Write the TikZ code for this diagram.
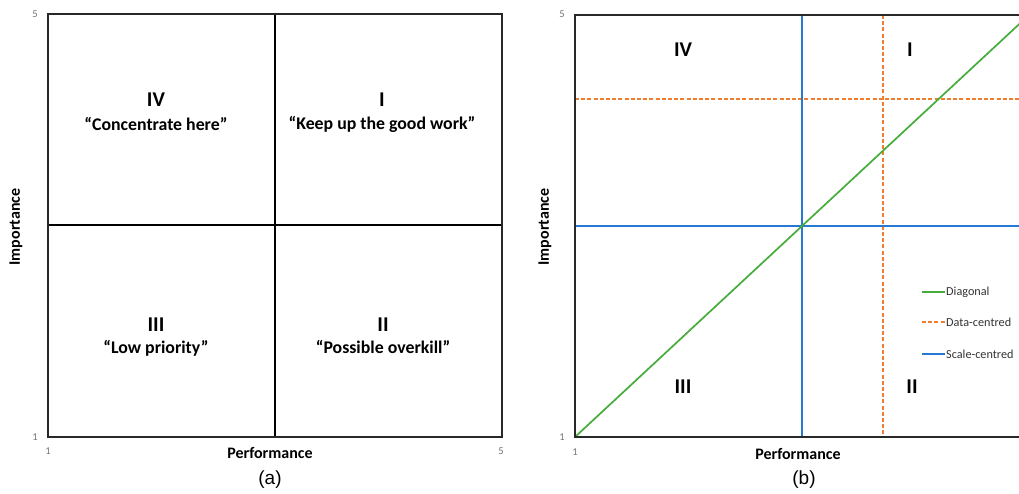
\documentclass[tikz,border=0pt]{standalone}
\usepackage{fontspec}
\setmainfont{Carlito}
\newfontfamily\capfont{Liberation Sans}
\definecolor{cblue}{RGB}{36,122,210}
\definecolor{corange}{RGB}{240,125,45}
\definecolor{cgreen}{RGB}{70,172,60}
\definecolor{ctick}{RGB}{110,118,118}
\definecolor{cframe}{RGB}{40,40,40}
\tikzset{
  frame/.style={draw=cframe,line width=2.5pt},
  divider/.style={draw=black,line width=2.3pt},
  bluel/.style={draw=cblue,line width=2.4pt},
  orangel/.style={draw=corange,line width=2.4pt,dash pattern=on 4pt off 2.2pt},
  greenl/.style={draw=cgreen,line width=1.7pt},
  quadnum/.style={inner sep=0pt,font=\fontsize{21}{23}\selectfont\bfseries},
  quadtxt/.style={inner sep=0pt,font=\fontsize{17.8}{19}\selectfont\bfseries},
  axtitle/.style={inner sep=0pt,font=\fontsize{16}{18}\selectfont\bfseries},
  ticklab/.style={inner sep=0pt,text=ctick,font=\fontsize{10.5}{12}\selectfont},
  caplab/.style={inner sep=0pt,font=\capfont\fontsize{19}{21}\selectfont},
  legtxt/.style={inner sep=0pt,anchor=west,text=black!80,font=\fontsize{12.2}{14}\selectfont}
}
\begin{document}
\begin{tikzpicture}[x=1pt,y=-1pt]
\clip (0,0) rectangle (1019,493);
\fill[white] (0,0) rectangle (1019,493);
% ---------- panel (a) ----------
\coordinate (aTL) at (48,14);
\coordinate (aBR) at (502,437);
\coordinate (aT) at (275,14);
\coordinate (aB) at (275,437);
\coordinate (aL) at (48,225);
\coordinate (aR) at (502,225);
\draw[divider] (aT) -- (aB);
\draw[divider] (aL) -- (aR);
\draw[frame] (aTL) rectangle (aBR);
\node[quadnum] (aIV) at (156,100) {IV};
\node[quadtxt] (aIVt) at (156,124) {“Concentrate here”};
\node[quadnum] (aI) at (382,100) {I};
\node[quadtxt] (aIt) at (382,124) {“Keep up the good work”};
\node[quadnum] (aIII) at (156,325) {III};
\node[quadtxt] (aIIIt) at (156,348) {“Low priority”};
\node[quadnum] (aII) at (383,325) {II};
\node[quadtxt] (aIIt) at (383,347) {“Possible overkill”};
\node[ticklab] (ay5) at (35,14) {5};
\node[ticklab] (ay1) at (35,437) {1};
\node[ticklab] (ax1) at (48,451) {1};
\node[ticklab] (ax5) at (501,451) {5};
\node[axtitle] (axt) at (270,453) {Performance};
\node[axtitle,rotate=90] (ayt) at (16,227) {Importance};
\node[caplab] (acap) at (270,480) {(a)};
% ---------- panel (b) ----------
\coordinate (bTL) at (575,15);
\coordinate (bBR) at (1029,437);
\coordinate (bBL) at (575,437);
\coordinate (bTR) at (1029,15);
\coordinate (bsT) at (802,15);
\coordinate (bsB) at (802,437);
\coordinate (bsL) at (575,226);
\coordinate (bsR) at (1029,226);
\coordinate (bdT) at (883,15);
\coordinate (bdB) at (883,437);
\coordinate (bdL) at (575,99);
\coordinate (bdR) at (1029,99);
\draw[orangel] (bdL) -- (bdR);
\draw[orangel] (bdT) -- (bdB);
\draw[bluel] (bsT) -- (bsB);
\draw[bluel] (bsL) -- (bsR);
\draw[greenl] (bBL) -- (bTR);
\draw[frame] (bTL) rectangle (bBR);
\node[quadnum] (bIV) at (683,50) {IV};
\node[quadnum] (bI) at (910,50) {I};
\node[quadnum] (bIII) at (683,387) {III};
\node[quadnum] (bII) at (912,387) {II};
\node[ticklab] (by5) at (562,14) {5};
\node[ticklab] (by1) at (562,437) {1};
\node[ticklab] (bx1) at (575,452) {1};
\node[axtitle] (bxt) at (798,454) {Performance};
\node[axtitle,rotate=90] (byt) at (545,227) {Importance};
\node[caplab] (bcap) at (804,480) {(b)};
% legend
\coordinate (lg1a) at (922,292);
\coordinate (lg1b) at (945,292);
\coordinate (lg2a) at (922,322);
\coordinate (lg2b) at (945,322);
\coordinate (lg3a) at (922,354);
\coordinate (lg3b) at (945,354);
\draw[greenl,line width=2pt] (lg1a) -- (lg1b);
\draw[orangel,line width=2pt] (lg2a) -- (lg2b);
\draw[bluel,line width=2pt] (lg3a) -- (lg3b);
\node[legtxt] (lgt1) at (946,292) {Diagonal};
\node[legtxt] (lgt2) at (946,322) {Data-centred};
\node[legtxt] (lgt3) at (946,354) {Scale-centred};
\end{tikzpicture}
\end{document}
